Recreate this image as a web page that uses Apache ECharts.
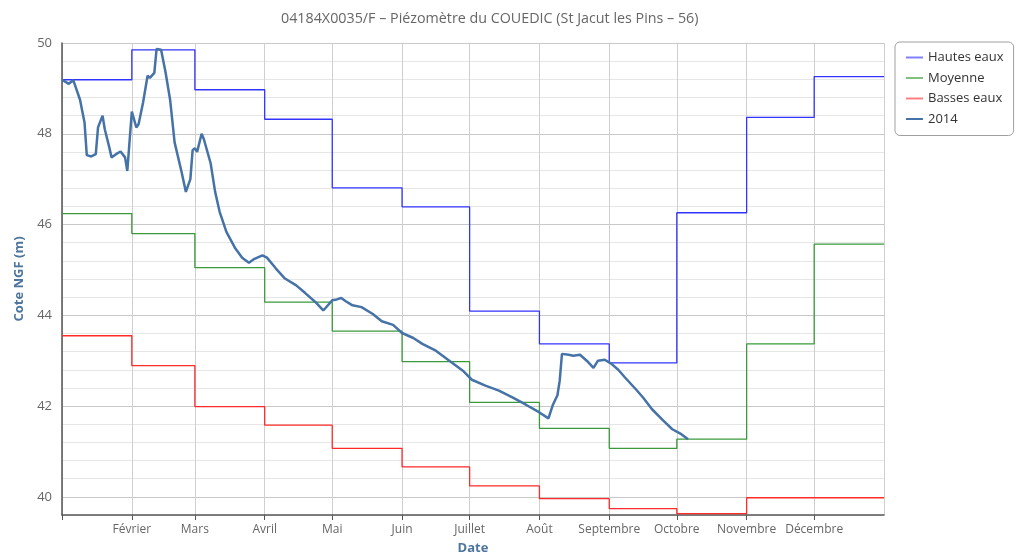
<!DOCTYPE html>
<html>
<head>
<meta charset="utf-8">
<script src="https://cdn.jsdelivr.net/npm/echarts@6/dist/echarts.min.js"></script>
<style>html,body{margin:0;padding:0;background:#fff}#c{width:1031px;height:560px}</style>
</head>
<body>
<div id="c"></div>
<script>
// Month starts of the reference year (thresholds are monthly values)
var monthStarts = ['2014-01-01','2014-02-01','2014-03-01','2014-04-01','2014-05-01','2014-06-01',
                   '2014-07-01','2014-08-01','2014-09-01','2014-10-01','2014-11-01','2014-12-01'];
var yearEnd = '2015-01-01';
var monthNames = ['Janvier','Février','Mars','Avril','Mai','Juin','Juillet','Août','Septembre','Octobre','Novembre','Décembre'];

var hautesEaux = [49.19, 49.85, 48.97, 48.32, 46.81, 46.39, 44.09, 43.37, 42.95, 46.26, 48.36, 49.26];
var moyenne    = [46.24, 45.80, 45.05, 44.29, 43.65, 42.98, 42.08, 41.51, 41.07, 41.27, 43.37, 45.57];
var bassesEaux = [43.55, 42.89, 41.99, 41.58, 41.07, 40.66, 40.24, 39.96, 39.74, 39.63, 39.98, 39.98];

var dates2014 = ['2014-01-01','2014-01-04','2014-01-06','2014-01-09','2014-01-11','2014-01-12','2014-01-14','2014-01-16',
  '2014-01-17','2014-01-19','2014-01-20','2014-01-22','2014-01-23','2014-01-25','2014-01-27','2014-01-29','2014-01-30',
  '2014-02-01','2014-02-03','2014-02-04','2014-02-06','2014-02-08','2014-02-09','2014-02-11','2014-02-12','2014-02-14',
  '2014-02-16','2014-02-18','2014-02-20','2014-02-23','2014-02-25','2014-02-27','2014-02-28','2014-03-01','2014-03-02',
  '2014-03-04','2014-03-05','2014-03-08','2014-03-10','2014-03-12','2014-03-15','2014-03-19','2014-03-22','2014-03-25',
  '2014-03-27','2014-03-31','2014-04-02','2014-04-06','2014-04-10','2014-04-15','2014-04-19','2014-04-24','2014-04-27',
  '2014-04-28','2014-05-01','2014-05-03','2014-05-05','2014-05-07','2014-05-10','2014-05-14','2014-05-19','2014-05-23',
  '2014-05-28','2014-06-01','2014-06-06','2014-06-10','2014-06-16','2014-06-22','2014-06-28','2014-07-02','2014-07-08',
  '2014-07-14','2014-07-20','2014-07-26','2014-08-01','2014-08-05','2014-08-07','2014-08-09','2014-08-10','2014-08-11',
  '2014-08-14','2014-08-16','2014-08-19','2014-08-22','2014-08-25','2014-08-27','2014-08-30','2014-09-02','2014-09-05',
  '2014-09-08','2014-09-13','2014-09-16','2014-09-20','2014-09-25','2014-09-29','2014-10-03','2014-10-06'];
var values2014 = [49.19, 49.10, 49.18, 48.75, 48.25, 47.53, 47.50, 47.55,
  48.14, 48.40, 48.10, 47.70, 47.48, 47.55, 47.61, 47.48, 47.18,
  48.49, 48.14, 48.21, 48.69, 49.28, 49.23, 49.34, 49.87, 49.85,
  49.35, 48.75, 47.81, 47.18, 46.72, 47.00, 47.64, 47.68, 47.60,
  48.00, 47.88, 47.35, 46.72, 46.28, 45.84, 45.47, 45.27, 45.16,
  45.23, 45.32, 45.27, 45.03, 44.81, 44.66, 44.49, 44.27, 44.11,
  44.16, 44.33, 44.35, 44.38, 44.31, 44.22, 44.18, 44.03, 43.87,
  43.79, 43.61, 43.50, 43.37, 43.22, 43.00, 42.78, 42.58, 42.45,
  42.34, 42.19, 42.03, 41.86, 41.73, 42.03, 42.24, 42.56, 43.15,
  43.13, 43.11, 43.13, 43.00, 42.84, 43.00, 43.02, 42.93, 42.80,
  42.63, 42.36, 42.19, 41.93, 41.68, 41.49, 41.38, 41.27];

function stepData(vals) {
  var d = monthStarts.map(function (m, i) { return [m, vals[i]]; });
  d.push([yearEnd, vals[vals.length - 1]]);
  return d;
}

var chart = echarts.init(document.getElementById('c'), null, {renderer: 'canvas'});
var font = '"Open Sans", "Noto Sans", sans-serif';
var hidden = {opacity: 0};
chart.setOption({
  animation: false,
  backgroundColor: '#fff',
  textStyle: {fontFamily: font},
  title: {
    text: '04184X0035/F – Piézomètre du COUEDIC (St Jacut les Pins – 56)',
    left: 276, top: 7,
    textStyle: {fontSize: 14.3, fontWeight: 'normal', color: '#666', fontFamily: font}
  },
  legend: {
    orient: 'vertical', left: 895, top: 42,
    padding: [9, 10, 10, 10], itemGap: 7.5, itemWidth: 17, itemHeight: 13,
    borderColor: '#a0a0a0', borderWidth: 1, borderRadius: 5,
    textStyle: {fontSize: 13, color: '#333'},
    data: [
      {name: 'Hautes eaux', lineStyle: {color: '#8080ff'}, itemStyle: hidden},
      {name: 'Moyenne', lineStyle: {color: '#80c080'}, itemStyle: hidden},
      {name: 'Basses eaux', lineStyle: {color: '#ff8080'}, itemStyle: hidden},
      {name: '2014', lineStyle: {color: '#4572a7'}, itemStyle: hidden}
    ]
  },
  grid: {left: 62, right: 147, top: 43, bottom: 42},
  xAxis: {
    type: 'time', min: '2014-01-01', max: yearEnd, splitNumber: 12,
    name: 'Date', nameLocation: 'middle', nameGap: 27,
    nameTextStyle: {fontWeight: 'bold', color: '#4d759e', fontSize: 13},
    axisLine: {lineStyle: {color: '#555', width: 1.5}},
    axisTick: {show: true, length: 5, lineStyle: {color: '#555'}},
    axisLabel: {
      color: '#666', fontSize: 12, margin: 9, hideOverlap: false,
      formatter: function (v) {
        var d = new Date(v);
        if (d.getDate() !== 1 || d.getMonth() === 0) return '';
        return monthNames[d.getMonth()];
      }
    },
    splitLine: {show: true, lineStyle: {color: '#cfcfcf'}}
  },
  yAxis: {
    type: 'value', min: 39.6, max: 50, interval: 0.4,
    name: 'Cote NGF (m)', nameLocation: 'middle', nameGap: 34,
    nameTextStyle: {fontWeight: 'bold', color: '#4d759e', fontSize: 13},
    axisLine: {show: true, lineStyle: {color: '#555', width: 1.5}},
    axisTick: {show: false},
    axisLabel: {
      color: '#666', fontSize: 13, margin: 10,
      formatter: function (v) {
        var r = Math.round(v / 2) * 2;
        return Math.abs(v - r) < 0.01 ? String(r) : '';
      }
    },
    splitLine: {show: true, lineStyle: {color: ['#e6e6e6', '#c8c8c8', '#e6e6e6', '#e6e6e6', '#e6e6e6'], width: 1}}
  },
  series: [
    {name: 'Hautes eaux', type: 'line', step: 'end', symbol: 'none', data: stepData(hautesEaux),
     lineStyle: {color: '#3333ff', width: 1.3}, itemStyle: {color: '#3333ff'}},
    {name: 'Moyenne', type: 'line', step: 'end', symbol: 'none', data: stepData(moyenne),
     lineStyle: {color: '#3a9a3a', width: 1.3}, itemStyle: {color: '#3a9a3a'}},
    {name: 'Basses eaux', type: 'line', step: 'end', symbol: 'none', data: stepData(bassesEaux),
     lineStyle: {color: '#ff2a2a', width: 1.3}, itemStyle: {color: '#ff2a2a'}},
    {name: '2014', type: 'line', symbol: 'none', data: dates2014.map(function (d, i) { return [d, values2014[i]]; }),
     lineStyle: {color: '#4572a7', width: 2.5}, itemStyle: {color: '#4572a7'}}
  ]
});
</script>
</body>
</html>
